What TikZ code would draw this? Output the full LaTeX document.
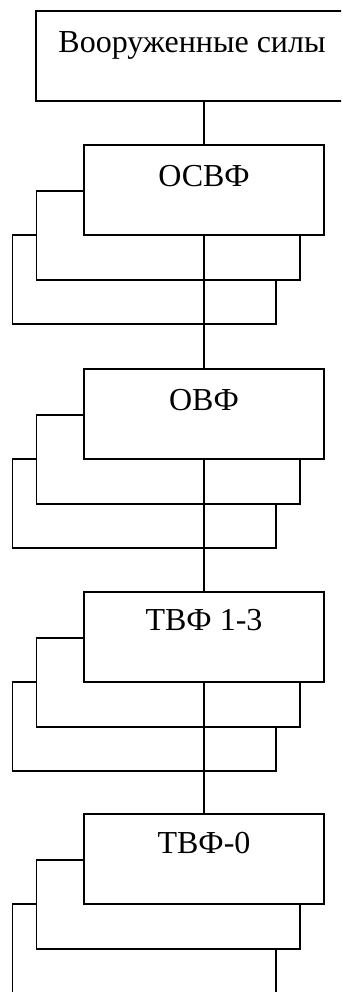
\documentclass[tikz,border=0pt]{standalone}
\usepackage{fontspec}
\setmainfont{Liberation Serif}
\begin{document}
\begin{tikzpicture}[x=1pt,y=-1pt,
  box/.style={draw=black, line width=1.8pt, fill=white, minimum width=#1,
    minimum height=90pt, inner sep=0pt, outer sep=0pt, anchor=north west},
  lbl/.style={font=\fontsize{32}{36}\selectfont, anchor=base, inner sep=0pt},
  conn/.style={line width=1.8pt}]
\useasboundingbox (0,0) rectangle (341,992);
\begin{scope}
\clip (0,0) rectangle (341,992);
\node[box=314pt] (top) at (36,11) {};
\node[lbl] (toptxt) at (192,53) {Вооруженные силы};
\foreach \t/\n/\txt/\b in {145/1/ОСВФ/42, 369/2/ОВФ/41, 592/3/ТВФ 1-3/38, 814/4/ТВФ-0/39}{
  \node[box=263.5pt, minimum height=89pt] (B\n) at (12.5,\t+90) {};
  \node[box=263.5pt, minimum height=89pt] (M\n) at (36.5,\t+46) {};
  \node[box=240pt] (F\n) at (84,\t) {};
  \node[lbl] (T\n) at (204,\t+\b) {\txt};
}
\draw[conn] (top.south -| F1.north) -- (F1.north);
\draw[conn] (F1.south) -- (F2.north);
\draw[conn] (F2.south) -- (F3.north);
\draw[conn] (F3.south) -- (F4.north);
\end{scope}
\end{tikzpicture}
\end{document}
